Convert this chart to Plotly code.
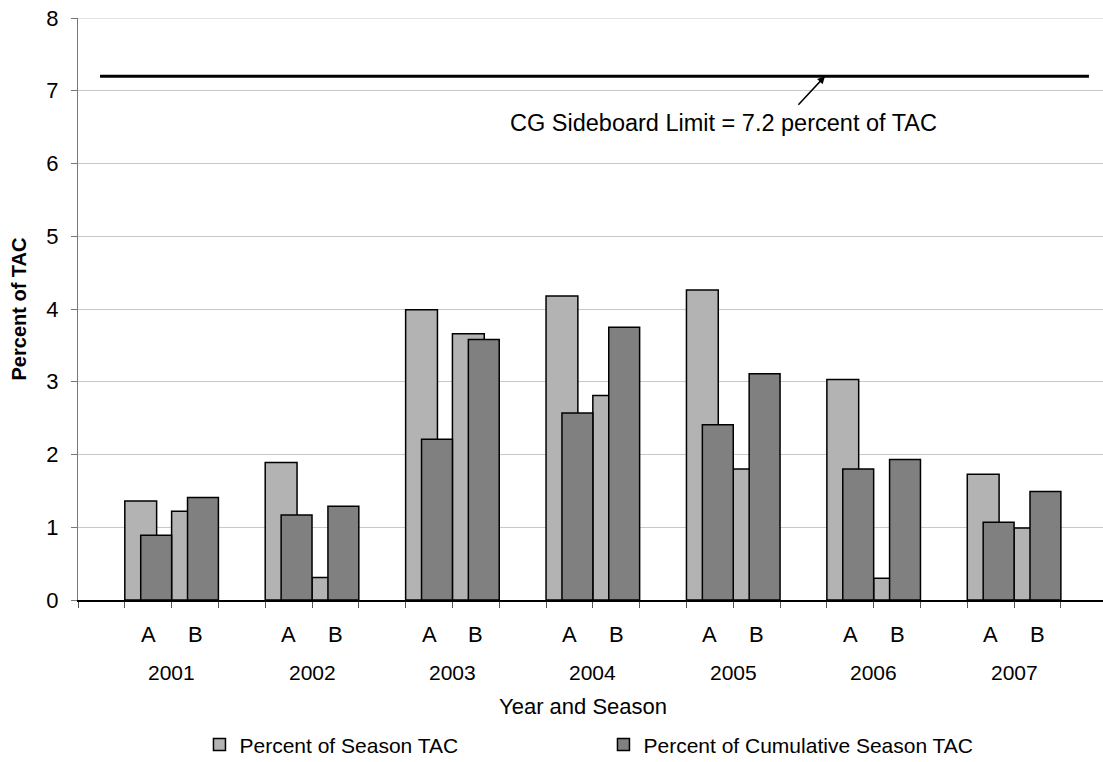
import plotly.graph_objects as go

years = ["2001", "2002", "2003", "2004", "2005", "2006", "2007"]
seasons = ["A", "B"]
season_tac = [1.36, 1.22, 1.89, 0.31, 3.99, 3.66, 4.18, 2.81, 4.26, 1.80, 3.03, 0.30, 1.73, 0.99]
cumulative_tac = [0.89, 1.41, 1.17, 1.29, 2.21, 3.58, 2.57, 3.75, 2.41, 3.11, 1.80, 1.93, 1.07, 1.49]
sideboard_limit = 7.2
y_ticks = [0, 1, 2, 3, 4, 5, 6, 7, 8]

# category positions: each year = [gap, A, B], one unit per slot
x_pos = []
x_lab = []
for i, yr in enumerate(years):
    for j, s in enumerate(seasons):
        x_pos.append(3 * i + 1.5 + j)
        x_lab.append(s)
year_pos = [3 * i + 2 for i in range(len(years))]

FONT = "Liberation Sans, Arial, sans-serif"
fig = go.Figure()

fig.add_trace(go.Bar(
    x=x_pos, y=season_tac, name="Percent of Season TAC",
    width=0.68, offset=-0.5,
    marker=dict(color="#b3b3b3", line=dict(color="black", width=1.5)),
))
fig.add_trace(go.Bar(
    x=x_pos, y=cumulative_tac, name="Percent of Cumulative Season TAC",
    width=0.66, offset=-0.16,
    marker=dict(color="#808080", line=dict(color="black", width=1.5)),
))
fig.add_trace(go.Scatter(
    x=[0.47, 21.6], y=[sideboard_limit, sideboard_limit], mode="lines",
    line=dict(color="black", width=3), showlegend=False, hoverinfo="skip",
))

annotations = []
for xp, lab in zip(x_pos, x_lab):
    annotations.append(dict(x=xp, y=0, xref="x", yref="paper", text=lab, showarrow=False,
                            yanchor="middle", yshift=-34, font=dict(size=22, color="black", family=FONT)))
for xp, yr in zip(year_pos, years):
    annotations.append(dict(x=xp, y=0, xref="x", yref="paper", text=yr, showarrow=False,
                            yanchor="middle", yshift=-72, font=dict(size=21, color="black", family=FONT)))
annotations.append(dict(x=0.493, y=0, xref="paper", yref="paper", text="Year and Season", showarrow=False,
                        yanchor="middle", yshift=-106, font=dict(size=22, color="black", family=FONT)))
annotations.append(dict(x=13.8, y=6.55, xref="x", yref="y", text="CG Sideboard Limit = 7.2 percent of TAC",
                        showarrow=False, font=dict(size=23.5, color="black", family=FONT)))
annotations.append(dict(x=15.96, y=sideboard_limit, xref="x", yref="y", text="", showarrow=True,
                        ax=-28, ay=30, arrowhead=2, arrowsize=1, arrowwidth=1.5, arrowcolor="black"))

fig.update_layout(
    width=1103, height=762,
    margin=dict(l=78, r=0, t=18, b=162, autoexpand=False),
    paper_bgcolor="white", plot_bgcolor="white",
    barmode="overlay",
    font=dict(family=FONT, color="black"),
    showlegend=True,
    legend=dict(orientation="h", x=0.1185, y=-0.249, xanchor="left", yanchor="middle",
                font=dict(size=21, family=FONT), entrywidth=359, entrywidthmode="pixels",
                itemwidth=30, bgcolor="rgba(0,0,0,0)"),
    annotations=annotations,
    shapes=[dict(type="line", xref="paper", yref="y", x0=0, x1=1, y0=y_ticks[-1], y1=y_ticks[-1],
                 line=dict(color="#c8c8c8", width=1), layer="below")],
    xaxis=dict(range=[0, 21.9], tickvals=list(range(0, 22)), showticklabels=False,
               ticks="outside", ticklen=6, tickcolor="#555", showgrid=False, automargin=False,
               showline=True, linecolor="black", linewidth=1.5, zeroline=False, fixedrange=True),
    yaxis=dict(range=[0, 8], tickvals=y_ticks, ticks="outside", ticklen=6, tickcolor="#777",
               showgrid=True, gridcolor="#c8c8c8", gridwidth=1, automargin=False,
               showline=True, linecolor="#777", linewidth=1, zeroline=False,
               tickfont=dict(size=22, family=FONT), ticklabelstandoff=8, ticklabeloverflow="allow",
               title=dict(text="<b>Percent of TAC</b>", font=dict(size=20, family=FONT), standoff=14)),
)

fig.write_html("out.html", config={"displayModeBar": False},
               post_script="document.body.style.margin='0px';")
